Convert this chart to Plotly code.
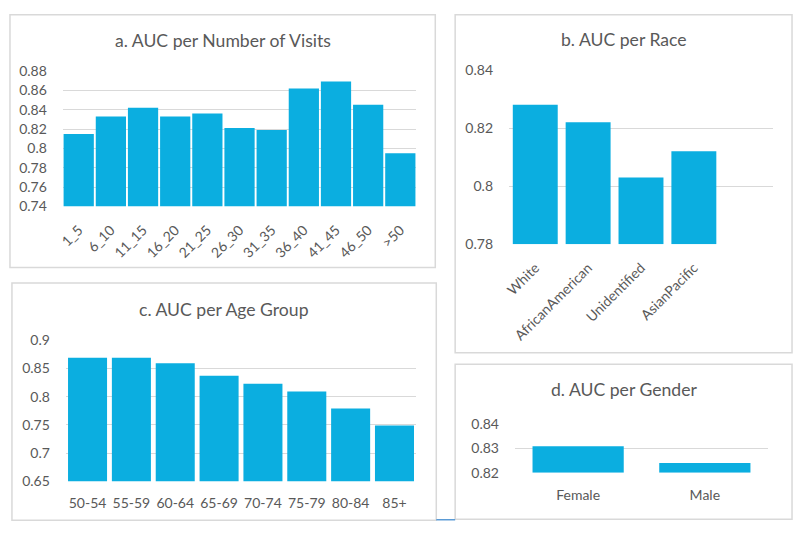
import plotly.graph_objects as go

W, H = 798, 535

visits_cats = ["1_5", "6_10", "11_15", "16_20", "21_25", "26_30", "31_35", "36_40", "41_45", "46_50", ">50"]
visits_auc = [0.815, 0.833, 0.842, 0.833, 0.836, 0.821, 0.819, 0.862, 0.869, 0.845, 0.795]

race_cats = ["White", "AfricanAmerican", "Unidentified", "AsianPacific", ""]
race_auc = [0.828, 0.822, 0.803, 0.812, None]

age_cats = ["50-54", "55-59", "60-64", "65-69", "70-74", "75-79", "80-84", "85+"]
age_auc = [0.869, 0.869, 0.859, 0.837, 0.823, 0.809, 0.779, 0.749]

gender_cats = ["Female", "Male"]
gender_auc = [0.831, 0.824]

BAR = "#0BAEE0"
GRID = "#D9D9D9"
TXT = "#595959"
FONT = "Lato"

fig = go.Figure()

def fx(x):
    return x / W

def fy(y):
    return 1 - y / H

def px_x(a, b):
    return [fx(a), fx(b)]

def px_y(top, bottom):
    return [fy(bottom), fy(top)]

panels = [
    ("", visits_cats, visits_auc, px_x(58, 414), px_y(64, 204), [0.74, 0.88], 0.02, 0.94, -45, 9),
    ("2", race_cats, race_auc, px_x(507, 773), px_y(63, 243), [0.78, 0.84], 0.02, 0.85, -45, 9),
    ("3", age_cats, age_auc, px_x(61, 414), px_y(342, 488), [0.65, 0.90], 0.05, 0.89, 0, 9),
    ("4", gender_cats, gender_auc, px_x(513, 768), px_y(429, 479), [0.82, 0.84], 0.01, 0.72, 0, 9),
]

layout = {}
for name, cats, vals, xd, yd, yr, dt, wd, ang, tl in panels:
    idx = list(range(len(cats)))
    fig.add_trace(go.Bar(
        x=idx, y=[(v - yr[0]) if v is not None else None for v in vals], base=yr[0],
        width=wd, marker=dict(color=BAR, line=dict(width=0)),
        xaxis="x" + name, yaxis="y" + name, showlegend=False, hoverinfo="skip",
    ))
    layout["xaxis" + name] = dict(
        domain=xd, anchor="y" + name, range=[-0.5, len(cats) - 0.5],
        tickmode="array", tickvals=idx, ticktext=cats, tickangle=ang,
        showgrid=False, zeroline=False, showline=False,
        ticks="outside", ticklen=tl, tickcolor="rgba(0,0,0,0)",
        tickfont=dict(family=FONT, size=14, color=TXT), fixedrange=True,
    )
    layout["yaxis" + name] = dict(
        domain=yd, anchor="x" + name, range=yr, dtick=dt, tick0=yr[0],
        showgrid=True, gridcolor=GRID, gridwidth=1, zeroline=False, showline=False,
        ticks="outside", ticklen=12, tickcolor="rgba(0,0,0,0)",
        tickfont=dict(family=FONT, size=14, color=TXT), fixedrange=True,
    )

boxes = [(5, 6, 433, 267), (453, 6, 792, 355), (7, 283, 434, 528), (453, 367, 792, 527)]
shapes = []
for x0, y0, x1, y1 in boxes:
    shapes.append(dict(type="rect", xref="paper", yref="paper",
                       x0=fx(x0), x1=fx(x1), y0=fy(y1), y1=fy(y0),
                       line=dict(color=GRID, width=1.5), fillcolor="rgba(0,0,0,0)", layer="below"))
shapes.append(dict(type="line", xref="paper", yref="paper", x0=fx(434), x1=fx(453),
                   y0=fy(527.5), y1=fy(527.5), line=dict(color="#5B9BD5", width=1.5)))

titles = [
    ("a. AUC per Number of Visits", 219, 33),
    ("b. AUC per Race", 623, 32),
    ("c. AUC per Age Group", 220, 310),
    ("d. AUC per Gender", 623, 393),
]
annotations = []
for t, x, y in titles:
    annotations.append(dict(text=t, x=fx(x), y=fy(y), xref="paper", yref="paper",
                            showarrow=False, xanchor="center", yanchor="middle",
                            font=dict(family=FONT, size=17.6, color=TXT)))

fig.update_layout(
    autosize=True, margin=dict(l=0, r=0, t=0, b=0),
    paper_bgcolor="white", plot_bgcolor="white",
    shapes=shapes, annotations=annotations, bargap=0.06,
    **layout,
)

# Pin the graph div to the top-left corner of the page so the body margin
# does not shift or overflow the 798x535 window.
fig.write_html(
    "out.html",
    config={"displayModeBar": False},
    default_width="798px",
    default_height="535px; position:absolute; left:0; top:0",
)
